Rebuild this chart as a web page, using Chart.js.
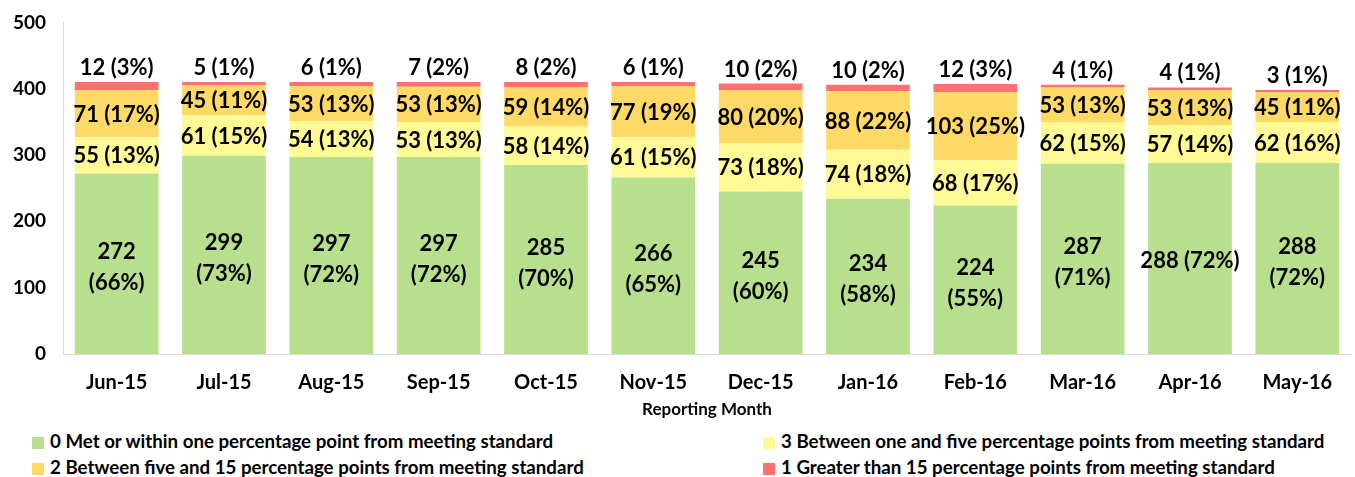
<!DOCTYPE html>
<html>
<head>
<meta charset="utf-8">
<script src="https://cdn.jsdelivr.net/npm/chart.js@4"></script>
<style>
  body { margin: 0; background: #fff; }
  #wrap { position: relative; width: 1355px; height: 477px; }
  #myChart { position: absolute; left: 0; top: 0; }
  .leg { position: absolute; font: bold 18.7px Lato, sans-serif; color: #000; white-space: nowrap; line-height: 20px; }
  .leg span { display: inline-block; width: 12px; height: 12px; margin-right: 6px; vertical-align: -1px; }
</style>
</head>
<body>
<div id="wrap">
  <canvas id="myChart" width="1355" height="430"></canvas>
  <div id="legend"></div>
</div>
<script>
const months = ["Jun-15","Jul-15","Aug-15","Sep-15","Oct-15","Nov-15","Dec-15","Jan-16","Feb-16","Mar-16","Apr-16","May-16"];
const metStd    = [272,299,297,297,285,266,245,234,224,287,288,288];
const oneToFive = [55,61,54,53,58,61,73,74,68,62,57,62];
const fiveTo15  = [71,45,53,53,59,77,80,88,103,53,53,45];
const over15    = [12,5,6,7,8,6,10,10,12,4,4,3];
const pctMet       = [66,73,72,72,70,65,60,58,55,71,72,72];
const pctOneToFive = [13,15,13,13,14,15,18,18,17,15,14,16];
const pctFiveTo15  = [17,11,13,13,14,19,20,22,25,13,13,11];
const pctOver15    = [3,1,1,2,2,1,2,2,3,1,1,1];
const yTicks = [0,100,200,300,400,500];

const seriesNames = [
  "0 Met or within one percentage point from meeting standard",
  "3 Between one and five percentage points from meeting standard",
  "2 Between five and 15 percentage points from meeting standard",
  "1 Greater than 15 percentage points from meeting standard"
];
const colors = ["#B7DF8D","#FFFA96","#FFD966","#FF7070"];

const FONT = "Lato, sans-serif";

// labels drawn on the bars
const barLabels = {
  id: "barLabels",
  afterDatasetsDraw(chart){
    const ctx = chart.ctx;
    const pcts = [pctMet, pctOneToFive, pctFiveTo15, pctOver15];
    ctx.save();
    ctx.fillStyle = "#000";
    ctx.textAlign = "center";
    ctx.font = "bold 22px " + FONT;
    chart.data.datasets.forEach((ds, i) => {
      const meta = chart.getDatasetMeta(i);
      meta.data.forEach((bar, j) => {
        const v = ds.data[j];
        const txt = v + " (" + pcts[i][j] + "%)";
        const mid = (bar.y + bar.base) / 2;
        if(i === 0){
          ctx.textBaseline = "middle";
          if(months[j] === "Apr-16"){
            ctx.fillText(txt, bar.x, mid + 2);
          } else {
            ctx.fillText(String(v), bar.x, mid - 12);
            ctx.fillText("(" + pcts[i][j] + "%)", bar.x, mid + 19);
          }
        } else if(i === 3){
          ctx.textBaseline = "bottom";
          ctx.fillText(txt, bar.x, bar.y - 3);
        } else {
          ctx.textBaseline = "middle";
          ctx.fillText(txt, bar.x, mid + 1);
        }
      });
    });
    ctx.restore();
  }
};

const data = {
  labels: months,
  datasets: [
    { label: seriesNames[0], data: metStd,    backgroundColor: colors[0] },
    { label: seriesNames[1], data: oneToFive, backgroundColor: colors[1] },
    { label: seriesNames[2], data: fiveTo15,  backgroundColor: colors[2] },
    { label: seriesNames[3], data: over15,    backgroundColor: colors[3] }
  ]
};

const config = {
  type: "bar",
  data: data,
  options: {
    responsive: false,
    animation: false,
    layout: { padding: { top: 22, right: 4, left: 0, bottom: 0 } },
    datasets: { bar: { categoryPercentage: 0.78, barPercentage: 1 } },
    plugins: {
      legend: { display: false },
      tooltip: { enabled: false }
    },
    scales: {
      x: {
        stacked: true,
        afterFit: s => { s.height = 76; },
        grid: { display: false, drawTicks: false },
        border: { color: "#D9D9D9" },
        ticks: { color: "#000", font: { family: FONT, weight: "bold", size: 20 }, padding: 17 },
        title: { display: true, text: "Reporting Month", color: "#000", font: { family: FONT, weight: "bold", size: 17 }, padding: { top: 0, bottom: 10 } }
      },
      y: {
        stacked: true,
        min: 0,
        max: 500,
        afterBuildTicks: s => { s.ticks = yTicks.map(v => ({ value: v })); },
        afterFit: s => { s.width = 63; },
        grid: { display: false, drawTicks: true, tickLength: 6, tickColor: "#D9D9D9" },
        border: { color: "#D9D9D9" },
        ticks: { color: "#000", font: { family: FONT, weight: "bold", size: 19 }, padding: 11 }
      }
    }
  },
  plugins: [barLabels]
};

// legend as two columns below the chart
const legendPos = [[32,431],[763,431],[32,457],[763,457]];
const legendOrder = [0,1,2,3];
document.getElementById("legend").innerHTML = legendOrder.map((k, n) =>
  '<div class="leg" style="left:' + legendPos[n][0] + 'px;top:' + legendPos[n][1] + 'px">' +
  '<span style="background:' + colors[k] + '"></span>' + seriesNames[k] + '</div>'
).join("");

const myChart = new Chart(document.getElementById("myChart").getContext("2d"), config);
</script>
</body>
</html>
